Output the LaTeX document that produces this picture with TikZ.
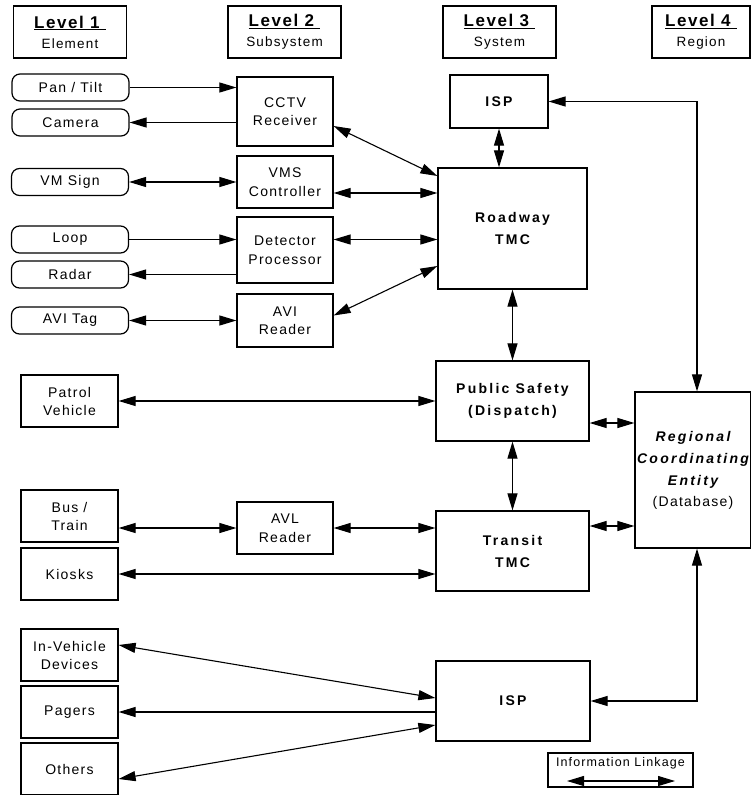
\documentclass[tikz,border=0pt]{standalone}
\usepackage{fontspec}
\setmainfont{Liberation Sans}[LetterSpace=9]
\newfontfamily\anchafont{Liberation Sans}[LetterSpace=16]
\usetikzlibrary{arrows.meta, positioning, calc}
\tikzset{
  nivel/.style={rectangle, draw, line width=1.2pt, minimum width=113pt, minimum height=52pt,
                inner sep=0pt, align=center, font=\fontsize{13.5}{19}\selectfont},
  elem/.style={rectangle, rounded corners=8pt, draw, line width=1.2pt, minimum width=117pt,
               minimum height=27pt, inner sep=0pt, font=\fontsize{14}{18}\selectfont},
  elemq/.style={rectangle, draw, line width=1.2pt, minimum width=97pt, minimum height=52pt,
                inner sep=0pt, align=center, font=\fontsize{14}{18}\selectfont},
  subs/.style={rectangle, draw, line width=1.2pt, minimum width=96pt, minimum height=52pt,
               inner sep=0pt, align=center, font=\fontsize{14}{18.5}\selectfont},
  sist/.style={rectangle, draw, line width=1.2pt, minimum width=153pt, minimum height=80pt,
               inner sep=0pt, align=center, font=\anchafont\bfseries\fontsize{14}{22}\selectfont},
  arrow/.style={line width=1.1pt, -{Triangle[length=17pt,width=10pt]}},
  dbl/.style={line width=1.1pt, {Triangle[length=17pt,width=10pt]}-{Triangle[length=17pt,width=10pt]}}
}
\newcommand{\nivtit}[2]{\underline{\bfseries\fontsize{17}{20}\selectfont #1\ }\\[1pt] #2}

\begin{document}
\begin{tikzpicture}[x=1pt, y=-1pt]
  \useasboundingbox (0,0) rectangle (751,795);
  \clip (0,0) rectangle (751,795);
  \node (lev1) [nivel] at (70,32) {\nivtit{Level 1}{Element}};
  \node (lev2) [nivel] at (284.5,32) {\nivtit{Level 2}{Subsystem}};
  \node (lev3) [nivel] at (499.5,32) {\nivtit{Level 3}{System}};
  \node (lev4) [nivel, minimum width=98pt] at (701,32) {\nivtit{Level 4}{Region}};
  \node (pantilt) [elem] at (70.5,87.5) {Pan / Tilt};
  \node (camera) [elem] at (70.5,122.5) {Camera};
  \node (vmsign) [elem] at (70,182) {VM Sign};
  \node (loop) [elem] at (70,239.5) {Loop};
  \node (radar) [elem] at (70,274.5) {Radar};
  \node (avitag) [elem] at (70,320.5) {AVI Tag};
  \node (cctv) [subs, minimum height=69pt] at (285,111.5) {CCTV\\Receiver};
  \node (vms) [subs] at (285,182) {VMS\\Controller};
  \node (detector) [subs, minimum height=66pt] at (285,250) {Detector\\Processor};
  \node (avireader) [subs, minimum height=53pt] at (285,320.5) {AVI\\Reader};
  \node (avl) [subs] at (285,528) {AVL\\Reader};
  \node (ispa) [sist, minimum width=98pt, minimum height=53pt] at (499,101.5) {ISP};
  \node (roadway) [sist, minimum width=149pt, minimum height=121pt] at (512.5,228.5) {Roadway\\TMC};
  \node (pubsafe) [sist] at (512.5,401) {Public Safety\\(Dispatch)};
  \node (transit) [sist] at (512.5,551) {Transit\\TMC};
  \node (ispb) [sist, minimum width=154pt] at (513,701) {ISP};
  \node (regional) [sist, minimum width=116pt, minimum height=156pt, text width=114pt] at (693,470)
    {\itshape Regional\\Coordinating\\Entity\\[-1pt]\normalfont(Database)};
  \node (patrol) [elemq] at (69.5,401) {Patrol\\Vehicle};
  \node (bustrain) [elemq] at (69.5,516) {Bus /\\Train};
  \node (kiosks) [elemq] at (69.5,574) {Kiosks};
  \node (invehicle) [elemq] at (69.5,655) {In-Vehicle\\Devices};
  \node (pagers) [elemq] at (69.5,712) {Pagers};
  \node (others) [elemq] at (69.5,769) {Others};
  \node (leyenda) [rectangle, draw, line width=1.2pt, minimum width=145pt, minimum height=34pt,
    inner sep=0pt] at (620.5,770) {};
  \node (leytxt) [font=\fontsize{12.5}{15}\selectfont, below=1pt of leyenda.north] {Information Linkage};
  \coordinate (leyiz) at (567,781);
  \coordinate (leyde) at (675,781);
  \draw [arrow] (pantilt) -- (pantilt -| cctv.west);
  \draw [arrow] (camera -| cctv.west) -- (camera);
  \draw [dbl] (vmsign) -- (vmsign -| vms.west);
  \draw [dbl] ([yshift=-11pt]vms.east) -- ([yshift=-11pt]vms.east -| roadway.west);
  \draw [arrow] (loop) -- (loop -| detector.west);
  \draw [arrow] (radar -| detector.west) -- (radar);
  \draw [dbl] (loop -| detector.east) -- (loop -| roadway.west);
  \draw [dbl] (avitag) -- (avitag -| avireader.west);
  \draw [dbl] ([yshift=5pt]avireader.east) -- ([yshift=-37.5pt]roadway.west);
  \draw [dbl] ([yshift=-14.5pt]cctv.east) -- ([yshift=52.5pt]roadway.west);
  \draw [dbl] (ispa.south) -- (ispa.south |- roadway.north);
  \draw [dbl] (ispa.east) -| ([xshift=4pt]regional.north);
  \draw [dbl] (roadway.south) -- (pubsafe.north);
  \draw [dbl] (patrol) -- (pubsafe);
  \draw [dbl] ([yshift=-22pt]pubsafe.east) -- ([yshift=-22pt]pubsafe.east -| regional.west);
  \draw [dbl] (pubsafe.south) -- (transit.north);
  \draw [dbl] (avl.west -| bustrain.east) -- (avl.west);
  \draw [dbl] (avl.east) -- (avl.east -| transit.west);
  \draw [dbl] (kiosks) -- (kiosks -| transit.west);
  \draw [dbl] ([yshift=25pt]transit.east) -- ([yshift=25pt]transit.east -| regional.west);
  \draw [dbl] ([yshift=10pt]invehicle.east) -- ([yshift=3pt]ispb.west);
  \draw [arrow] (pagers -| ispb.west) -- (pagers);
  \draw [dbl] ([yshift=-10pt]others.east) -- ([yshift=-24pt]ispb.west);
  \draw [dbl] (ispb.east) -| ([xshift=4pt]regional.south);
  \draw [dbl] (leyiz) -- (leyde);
\end{tikzpicture}
\end{document}
